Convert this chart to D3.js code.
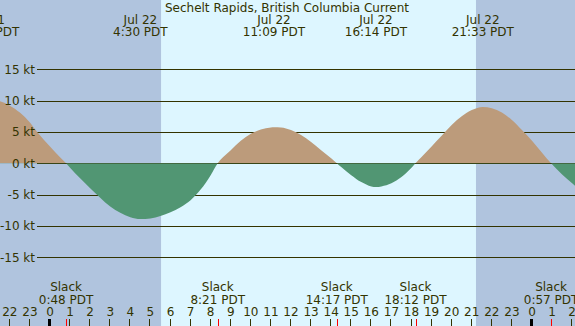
<!DOCTYPE html>
<html>
<head>
<meta charset="utf-8">
<script src="https://cdn.jsdelivr.net/npm/d3@7"></script>
<style>
  body { margin: 0; background: #fff; }
  svg { display: block; font-family: "DejaVu Sans", sans-serif; }
</style>
</head>
<body>
<svg id="chart" width="575" height="326"></svg>
<script>
const title = "Sechelt Rapids, British Columbia Current";

// hours after midnight Jul 22 (PDT) and current speed in knots
const sampleHours = [-3.08, -2.5, -2.0, -1.5, -1.0, -0.64, 0.0, 0.5, 0.8,
  1.0, 1.5, 2.0, 2.34, 2.5, 3.0, 3.5, 4.0, 4.5, 5.0, 5.5, 6.0, 6.5, 7.0, 7.5, 8.0, 8.35,
  8.5, 9.0, 9.5, 10.0, 10.5, 11.0, 11.15, 11.5, 12.0, 12.5, 13.0, 13.5, 14.0, 14.28,
  14.5, 15.0, 15.5, 16.0, 16.23, 16.5, 17.0, 17.5, 18.0, 18.2,
  18.5, 19.0, 19.5, 20.0, 20.5, 21.0, 21.55, 22.0, 22.5, 23.0, 23.5, 24.0, 24.5, 24.95,
  25.5, 26.0, 26.5];
const currentKt = [10.2, 9.9, 9.2, 8.1, 6.5, 5.0, 2.7, 0.95, 0,
  -0.7, -2.4, -4.0, -5.0, -5.5, -6.9, -7.9, -8.6, -8.9, -8.8, -8.4, -7.8, -7.0, -5.9, -4.2, -1.9, 0,
  0.6, 2.1, 3.6, 4.7, 5.4, 5.7, 5.75, 5.7, 5.3, 4.5, 3.4, 2.1, 0.8, 0,
  -0.6, -1.9, -3.0, -3.7, -3.8, -3.7, -3.2, -2.2, -0.7, 0,
  1.0, 2.7, 4.4, 6.1, 7.5, 8.5, 9.0, 8.8, 8.1, 6.9, 5.3, 3.6, 1.7, 0,
  -1.8, -3.2, -4.5];

const sunriseHour = 5.53;
const sunsetHour = 21.21;

const peakDates = ["Jul 21", "Jul 22", "Jul 22", "Jul 22", "Jul 22"];
const peakTimes = ["20:55", "4:30", "11:09", "16:14", "21:33"];
const peakHours = [-3.08, 4.5, 11.15, 16.23, 21.55];

const slackTimes = ["0:48", "8:21", "14:17", "18:12", "0:57"];
const slackHours = [0.8, 8.35, 14.28, 18.2, 24.95];

const speedTicks = [15, 10, 5, 0, -5, -10, -15];
const hourTicks = d3.range(-2, 27);

const width = 575, height = 326;
const ink = "#333300";

const x = d3.scaleLinear().domain([0, 24]).range([50, 532]);
const y = d3.scaleLinear().domain([0, 15]).range([163.3, 69.3]);

const svg = d3.select("#chart");

// night / day background
svg.append("rect").attr("x", 0).attr("y", 0).attr("width", width).attr("height", height)
  .attr("fill", "#b0c4de");
svg.append("rect")
  .attr("x", x(sunriseHour)).attr("y", 0)
  .attr("width", x(sunsetHour) - x(sunriseHour)).attr("height", height)
  .attr("fill", "#ddf6ff");

// grid lines (zero line comes later)
svg.append("g").selectAll("line")
  .data(speedTicks.filter(d => d !== 0))
  .join("line")
  .attr("x1", 37).attr("x2", width)
  .attr("y1", d => Math.round(y(d)) + 0.5).attr("y2", d => Math.round(y(d)) + 0.5)
  .attr("stroke", ink).attr("stroke-width", 1.2);

const points = sampleHours.map((h, i) => [h, currentKt[i]]);
const area = d3.area()
  .x(d => x(d[0]))
  .y0(y(0))
  .y1(d => y(d[1]))
  .curve(d3.curveMonotoneX);

const defs = svg.append("defs");
defs.append("clipPath").attr("id", "flood")
  .append("rect").attr("x", 0).attr("y", 0).attr("width", width).attr("height", y(0));
defs.append("clipPath").attr("id", "ebb")
  .append("rect").attr("x", 0).attr("y", y(0)).attr("width", width).attr("height", height);

svg.append("path").datum(points).attr("d", area)
  .attr("fill", "#bc9b7b").attr("clip-path", "url(#flood)");

svg.append("line")
  .attr("x1", 37).attr("x2", width)
  .attr("y1", Math.round(y(0)) + 0.5).attr("y2", Math.round(y(0)) + 0.5)
  .attr("stroke", ink).attr("stroke-width", 1.2);

svg.append("path").datum(points).attr("d", area)
  .attr("fill", "#519673").attr("clip-path", "url(#ebb)");

// speed labels
svg.append("g").selectAll("text")
  .data(speedTicks)
  .join("text")
  .attr("x", 35).attr("y", d => y(d) + 4.5)
  .attr("text-anchor", "end")
  .attr("font-size", 12).attr("fill", ink)
  .text(d => d + " kt");

// title
svg.append("text")
  .attr("x", 287).attr("y", 11.5)
  .attr("text-anchor", "middle").attr("font-size", 12).attr("fill", ink)
  .text(title);

// max / min labels along the top
const peaks = svg.append("g").selectAll("g")
  .data(peakHours.map((h, i) => ({ h, date: peakDates[i], time: peakTimes[i] })))
  .join("g")
  .attr("text-anchor", "middle").attr("font-size", 12).attr("fill", ink);
peaks.append("text").attr("x", d => x(d.h)).attr("y", 24).text(d => d.date);
peaks.append("text").attr("x", d => x(d.h)).attr("y", 36).text(d => d.time + " PDT");

// slack labels along the bottom
const slacks = svg.append("g").selectAll("g")
  .data(slackHours.map((h, i) => ({ h, time: slackTimes[i] })))
  .join("g")
  .attr("text-anchor", "middle").attr("font-size", 12).attr("fill", ink);
slacks.append("text").attr("x", d => x(d.h)).attr("y", 291).text("Slack");
slacks.append("text").attr("x", d => x(d.h)).attr("y", 303.5).text(d => d.time + " PDT");

// hour axis
const axis = svg.append("g");
axis.selectAll("text")
  .data(hourTicks)
  .join("text")
  .attr("x", d => x(d)).attr("y", 316)
  .attr("text-anchor", "middle").attr("font-size", 12).attr("fill", ink)
  .text(d => (d + 24) % 24);
axis.selectAll("line.hour")
  .data(hourTicks)
  .join("line")
  .attr("class", "hour")
  .attr("x1", d => Math.round(x(d)) - 0.5).attr("x2", d => Math.round(x(d)) - 0.5)
  .attr("y1", 319).attr("y2", height)
  .attr("stroke", d => d % 24 === 0 ? "#000" : ink)
  .attr("stroke-width", d => d % 24 === 0 ? 3 : 1);
axis.selectAll("line.slack")
  .data(slackHours)
  .join("line")
  .attr("class", "slack")
  .attr("x1", d => Math.round(x(d)) + 0.5).attr("x2", d => Math.round(x(d)) + 0.5)
  .attr("y1", 319).attr("y2", height)
  .attr("stroke", "#ff0000").attr("stroke-width", 1);
</script>
</body>
</html>
